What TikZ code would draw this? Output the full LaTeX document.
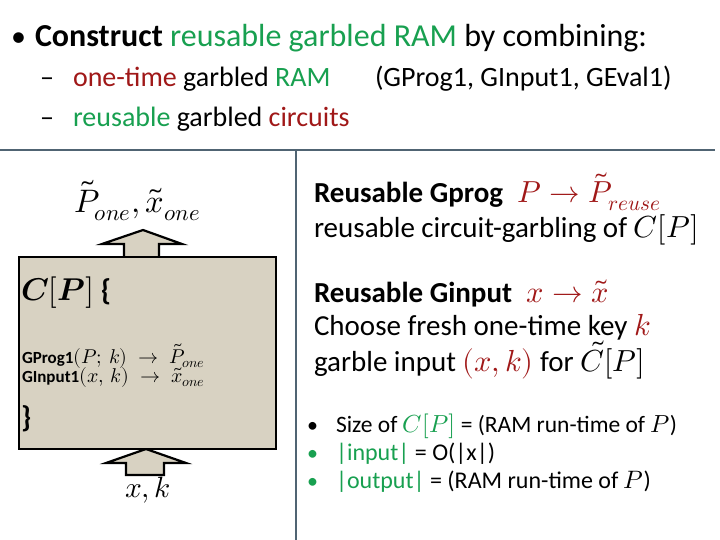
\documentclass[tikz,border=0pt]{standalone}
\usepackage{fontspec}
\usepackage{unicode-math}
\setmainfont{Carlito}
\setmathfont{Latin Modern Math}[Scale=1.05]
\definecolor{tgreen}{RGB}{24,160,80}
\definecolor{tred}{RGB}{160,24,24}
\definecolor{tanfill}{RGB}{216,210,194}
\definecolor{sepline}{RGB}{80,100,115}
\newcommand\fsz[1]{\fontsize{#1pt}{#1pt}\selectfont}
\begin{document}
\begin{tikzpicture}[x=1pt,y=-1pt,
  txt/.style={anchor=base west, inner sep=0pt, outer sep=0pt},
  sepl/.style={draw=sepline, line width=1.6pt},
  blockarrow/.style={draw=black, fill=tanfill, line width=2.2pt, line join=miter},
  boxstyle/.style={draw=black, fill=tanfill, line width=2pt, minimum width=257pt, minimum height=192pt, anchor=north west, inner sep=0pt}]
\useasboundingbox[fill=white] (0,0) rectangle (720,540);

% title
\node[txt] (b0) at (11,47) {\fsz{30}•};
\node[txt] (t0) at (35,47) {\fsz{32}\textbf{Construct} \textcolor{tgreen}{reusable garbled RAM} by combining:};
\node[txt] (d1) at (40,87) {\fsz{28}–};
\node[txt] (t1) at (73,87) {\fsz{28}\textcolor{tred}{one-time} garbled \textcolor{tgreen}{RAM}};
\node[txt] (t1b) at (375,87) {\fsz{28}(GProg1, GInput1, GEval1)};
\node[txt] (d2) at (40,127) {\fsz{28}–};
\node[txt] (t2) at (73,127) {\fsz{28}\textcolor{tgreen}{reusable} garbled \textcolor{tred}{circuits}};

% separators
\coordinate (hl) at (0,150);
\coordinate (hr) at (715,150);
\coordinate (vt) at (296,150);
\coordinate (vb) at (296,540);
\draw[sepl] (hl) -- (hr);
\draw[sepl] (vt) -- (vb);

% block arrows
\draw[blockarrow] (124,256) -- (124,244) -- (102,244) -- (143,230) -- (182,244) -- (159,244) -- (159,256);
\draw[blockarrow] (126,475) -- (126,463) -- (106,463) -- (146,449) -- (186,463) -- (164,463) -- (164,475) -- cycle;

% box
\node[boxstyle] (box) at (18,256) {};
\node[txt] (cp) at (21,300) {\fsz{30}$\symbfit{C}[\symbfit{P}]$ \textbf{\{}};
\node[txt] (g1) at (22,363) {\fsz{17}\textbf{GProg1}\fsz{19}$(P;\,k)\;\rightarrow\; \tilde{P}_{one}$};
\node[txt] (g2) at (22,382) {\fsz{17}\textbf{GInput1}\fsz{19}$(x,\,k)\;\rightarrow\; \tilde{x}_{one}$};
\node[txt] (cb) at (21,427) {\fsz{30}\textbf{\}}};

% labels
\node[txt] (out) at (74,212) {\fsz{31}$\tilde{P}_{one}, \tilde{x}_{one}$};
\node[txt] (in) at (125,497) {\fsz{28}$x, k$};

% right panel
\node[txt] (r1) at (314,203) {\fsz{29}\textbf{Reusable Gprog}\enspace\textcolor{tred}{$P\rightarrow\tilde{P}_{reuse}$}};
\node[txt] (r2) at (314,237) {\fsz{29}reusable circuit-garbling of $C[P]$};
\node[txt] (r3) at (314,302) {\fsz{29}\textbf{Reusable Ginput}\enspace\textcolor{tred}{$x\rightarrow\tilde{x}$}};
\node[txt] (r4) at (314,335) {\fsz{29}Choose fresh one-time key \textcolor{tred}{$k$}};
\node[txt] (r5) at (314,371) {\fsz{29}garble input \textcolor{tred}{$(x,k)$} for $\tilde{C}[P]$};

% bullets
\node[txt] (bb1) at (307,432) {\fsz{22}•};
\node[txt] (s1) at (336,432) {\fsz{23.5}Size of \textcolor{tgreen}{$C[P]$} = (RAM run-time of $P$)};
\node[txt] (bb2) at (307,460) {\fsz{22}\textcolor{tgreen}{•}};
\node[txt] (s2) at (336,460) {\fsz{24}\textcolor{tgreen}{|input|} = O(|x|)};
\node[txt] (bb3) at (307,488) {\fsz{22}\textcolor{tgreen}{•}};
\node[txt] (s3) at (336,488) {\fsz{24}\textcolor{tgreen}{|output|} = (RAM run-time of $P$)};
\end{tikzpicture}
\end{document}
